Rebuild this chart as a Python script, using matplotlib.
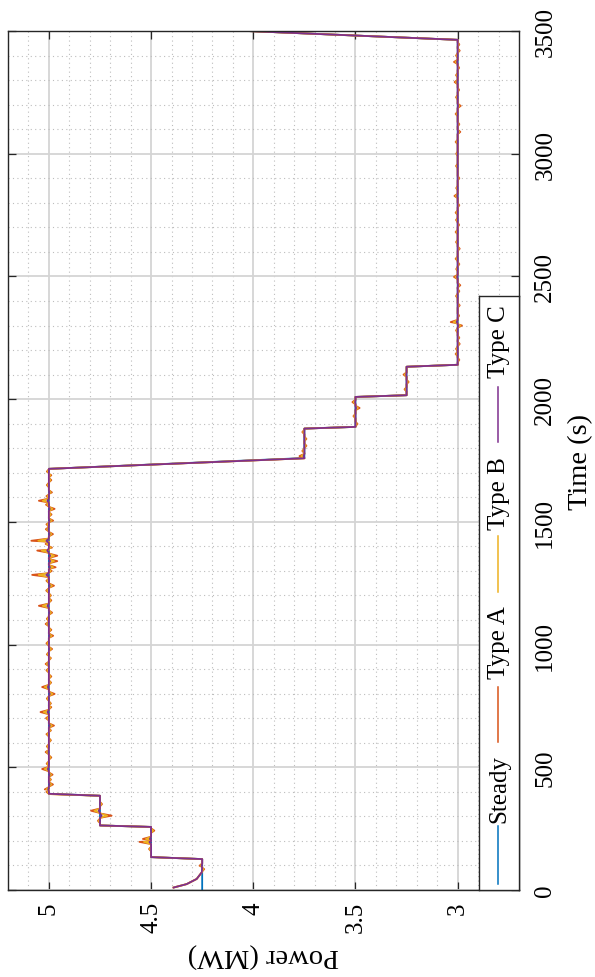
import numpy as np
import matplotlib
matplotlib.use('Agg')
import matplotlib.pyplot as plt
from matplotlib.ticker import MultipleLocator

plt.rcParams['font.family'] = 'serif'
plt.rcParams['font.serif'] = ['Liberation Serif', 'Times New Roman', 'DejaVu Serif']

# set-point profile: time (s) and power (MW)
steady_t = [0, 126, 134, 257, 263, 384, 392, 1716, 1760, 1880, 1887, 2009, 2016,
            2132, 2140, 3464, 3500]
steady_p = [4.25, 4.25, 4.5, 4.5, 4.75, 4.75, 5.0, 5.0, 3.75, 3.75, 3.5, 3.5, 3.25,
            3.25, 3.0, 3.0, 4.03]

# start-up transient of the dynamic runs
start_t = [10, 24, 45, 72]
start_p = [4.39, 4.326, 4.277, 4.252]

# larger fluctuation peaks (time) and deviation from the set-point per run
spike_t = [85, 99, 167, 196, 208, 242, 282, 303, 323, 350,
           410, 430, 470, 493, 562, 610, 670, 725, 760, 799,
           827, 870, 921, 982, 1036, 1084, 1130, 1158, 1200, 1240,
           1284, 1315, 1340, 1362, 1383, 1423, 1450, 1470, 1505, 1553,
           1586, 1620, 1650, 1690, 1768, 1789, 1810, 1838, 1866, 1899,
           1931, 1964, 1988, 2040, 2070, 2100, 2184, 2225, 2300, 2314,
           2382, 2464, 2498, 2572, 2613, 2681, 2760, 2828, 3048, 3089,
           3162, 3195, 3292, 3374, 3420]
dev_a = [-0.01, 0.013, 0.01, 0.057, 0.04, -0.016, 0.01, -0.057, 0.044, -0.01,
         0.02, -0.02, -0.018, 0.033, 0.016, -0.01, -0.025, 0.041, -0.01, -0.028,
         0.033, -0.012, 0.016, -0.016, -0.021, 0.016, -0.016, 0.049, -0.01, -0.025,
         0.082, -0.033, -0.041, -0.041, 0.057, 0.086, -0.02, 0.015, -0.021, -0.028,
         0.049, -0.015, 0.01, -0.012, 0.024, 0.01, -0.01, -0.01, 0.01, -0.01,
         0.01, -0.02, 0.015, 0.01, -0.01, 0.015, 0.01, -0.01, -0.021, 0.034,
         -0.01, -0.013, 0.018, 0.01, -0.01, 0.01, 0.01, 0.016, 0.01, -0.013,
         0.01, -0.015, 0.015, 0.018, -0.01]
dev_b = [-0.006, 0.008, 0.006, 0.035, 0.025, -0.01, 0.006, -0.035, 0.027, -0.006,
         0.012, -0.012, -0.011, 0.02, 0.01, -0.006, -0.015, 0.025, -0.006, -0.017,
         0.02, -0.007, 0.01, -0.01, -0.013, 0.01, -0.01, 0.03, -0.006, -0.015,
         0.05, -0.02, -0.025, -0.025, 0.035, 0.052, -0.012, 0.009, -0.013, -0.017,
         0.03, -0.009, 0.006, -0.007, 0.015, 0.006, -0.006, -0.006, 0.006, -0.006,
         0.006, -0.012, 0.009, 0.006, -0.006, 0.009, 0.006, -0.006, -0.013, 0.02,
         -0.006, -0.008, 0.011, 0.006, -0.006, 0.006, 0.006, 0.01, 0.006, -0.008,
         0.006, -0.009, 0.009, 0.011, -0.006]
dev_c = [0.0, 0.003, 0.0, 0.008, 0.006, 0.0, 0.0, -0.008, 0.006, 0.0,
         0.003, -0.003, -0.003, 0.005, 0.002, 0.0, -0.004, 0.006, 0.0, -0.004,
         0.005, 0.0, 0.002, -0.002, -0.003, 0.002, -0.002, 0.007, 0.0, -0.004,
         0.012, -0.005, -0.006, -0.006, 0.008, 0.012, -0.003, 0.002, -0.003, -0.004,
         0.007, -0.002, 0.0, 0.0, 0.004, 0.0, 0.0, 0.0, 0.0, 0.0,
         0.0, -0.003, 0.002, 0.0, 0.0, 0.002, 0.0, 0.0, -0.003, 0.005,
         0.0, -0.002, 0.003, 0.0, 0.0, 0.0, 0.0, 0.002, 0.0, -0.002,
         0.0, -0.002, 0.002, 0.003, 0.0]

# small ripples between the larger peaks
ripple_t = [400, 450, 515, 540, 585, 635, 650, 700, 745, 780,
            845, 895, 945, 960, 1005, 1060, 1105, 1180, 1220, 1260,
            1300, 1395, 1410, 1490, 1530, 1570, 1605, 1670, 1705, 2160,
            2205, 2250, 2280, 2340, 2420, 2440, 2530, 2550, 2640, 2710,
            2730, 2790, 2860, 2900, 2950, 3000, 3120, 3230, 3260, 3320,
            3350, 3400, 3445]
ripple_a = [0.012, -0.01, 0.011, -0.012, 0.01, 0.012, -0.01, 0.014, -0.012, 0.01,
            -0.011, 0.012, -0.01, 0.01, 0.012, -0.012, 0.01, -0.012, 0.013, 0.012,
            -0.014, -0.015, 0.016, 0.012, -0.013, 0.014, 0.012, -0.012, 0.01, -0.008,
            0.008, -0.008, 0.008, -0.007, 0.008, -0.008, 0.007, -0.008, 0.008, -0.007,
            0.008, -0.008, 0.007, -0.008, 0.008, 0.007, -0.008, 0.008, -0.007, 0.008,
            -0.007, 0.008, -0.008]
ripple_b = [0.007, -0.006, 0.007, -0.007, 0.006, 0.007, -0.006, 0.008, -0.007, 0.006,
            -0.007, 0.007, -0.006, 0.006, 0.007, -0.007, 0.006, -0.007, 0.008, 0.007,
            -0.008, -0.009, 0.01, 0.007, -0.008, 0.008, 0.007, -0.007, 0.006, -0.005,
            0.005, -0.005, 0.005, -0.004, 0.005, -0.005, 0.004, -0.005, 0.005, -0.004,
            0.005, -0.005, 0.004, -0.005, 0.005, 0.004, -0.005, 0.005, -0.004, 0.005,
            -0.004, 0.005, -0.005]

labels = ['Steady', 'Type A', 'Type B', 'Type C']
colors = ['#0072BD', '#D95319', '#EDB120', '#7E2F8E']


def build_series(peaks, half=9):
    # start-up transient followed by the set-point profile with peaks added
    t = list(start_t) + [x for x in steady_t if x > start_t[-1]]
    p = list(start_p) + [y for x, y in zip(steady_t, steady_p) if x > start_t[-1]]
    for times, devs in peaks:
        for ts, d in zip(times, devs):
            if d == 0:
                continue
            level = float(np.interp(ts, steady_t, steady_p))
            t += [ts - half, ts, ts + half]
            p += [level, level + d, level]
    order = np.argsort(t, kind='stable')
    return np.array(t)[order], np.array(p)[order]


series = [(np.array(steady_t), np.array(steady_p)),
          build_series([(spike_t, dev_a), (ripple_t, ripple_a)]),
          build_series([(spike_t, dev_b), (ripple_t, ripple_b)]),
          build_series([(spike_t, dev_c)])]

W, H = 595, 978
fig = plt.figure(figsize=(W / 100, H / 100), dpi=100)
ax = fig.add_axes([8 / W, (H - 891) / H, 511 / W, 859 / H])

for (t, p), c in zip(series, colors):
    ax.plot(p, t, color=c, linewidth=1.3)

ax.set_xlim(5.2, 2.7)
ax.set_ylim(0, 3500)
ax.set_xticks([3, 3.5, 4, 4.5, 5])
ax.set_xticklabels(['3', '3.5', '4', '4.5', '5'], rotation=90)
ax.set_yticks(range(0, 3501, 500))
ax.set_yticklabels([str(v) for v in range(0, 3501, 500)], rotation=90, va='center')
ax.xaxis.set_minor_locator(MultipleLocator(0.1))
ax.yaxis.set_minor_locator(MultipleLocator(100))

ax.tick_params(which='major', direction='in', length=6, width=0.9, color='#262626',
               top=True, bottom=True, left=True, right=True,
               labelleft=False, labelright=True, labelsize=18, pad=8)
ax.tick_params(axis='y', which='major', pad=11)
ax.tick_params(which='minor', length=0)
ax.grid(which='major', color='#d4d4d4', linewidth=1.3)
ax.grid(which='minor', color='#bdbdbd', linestyle=(0, (1, 3)), linewidth=0.8)
ax.set_axisbelow(True)
for s in ax.spines.values():
    s.set_color('#262626')
    s.set_linewidth(1.0)

ax.set_xlabel('Power (MW)', fontsize=20.5, rotation=180, ha='center', va='center')
ax.xaxis.set_label_coords(0.5, -0.0745)
ax.set_ylabel('Time (s)', fontsize=20.5, rotation=90, ha='center', va='center')
ax.yaxis.set_label_position('right')
ax.yaxis.set_label_coords(1.096, 0.5)

# legend box drawn sideways along the right edge
lax = fig.add_axes([479 / W, (H - 891) / H, 40 / W, 594 / H])
lax.set_xlim(0, 40)
lax.set_ylim(0, 594)
lax.set_xticks([])
lax.set_yticks([])
lax.set_facecolor('white')
for s in lax.spines.values():
    s.set_color('#262626')
    s.set_linewidth(1.0)
line_spans = [(6, 64), (148, 203), (298, 354), (448, 503)]
text_centers = [102, 248, 397, 549]
for (y0, y1), yc, c, lab in zip(line_spans, text_centers, colors, labels):
    lax.plot([19, 19], [y0, y1], color=c, linewidth=1.1)
    lax.text(20, yc, lab, rotation=90, ha='center', va='center', fontsize=18)

fig.savefig('out.png', dpi=100)
